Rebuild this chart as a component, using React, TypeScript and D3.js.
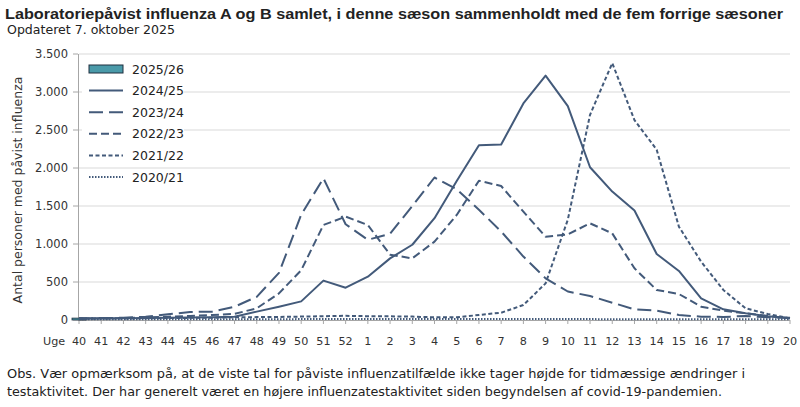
import * as d3 from "d3";

// uger i sæsonen
const weeks = [
  "40", "41", "42", "43", "44", "45", "46", "47", "48", "49", "50", "51", "52",
  "1", "2", "3", "4", "5", "6", "7", "8", "9", "10", "11", "12", "13", "14", "15",
  "16", "17", "18", "19", "20",
];

const yTicks = [0, 500, 1000, 1500, 2000, 2500, 3000, 3500];

// 2025/26 - kun uge 40 indtil videre
const s2025 = [25];

const s2024 = [
  18, 20, 22, 25, 30, 32, 35, 44, 110, 175, 245, 518, 425,
  570, 811, 990, 1340, 1830, 2300, 2310, 2850, 3215, 2815, 2010, 1690, 1440, 868, 645,
  285, 140, 90, 48, 22,
];

const s2023 = [
  22, 25, 30, 44, 75, 105, 110, 175, 305, 620, 1385, 1865, 1260,
  1055, 1135, 1500, 1875, 1720, 1450, 1165, 835, 548, 375, 316, 228, 140, 123, 66,
  44, 40, 53, 35, 30,
];

const s2022 = [
  20, 22, 25, 35, 44, 53, 66, 80, 154, 350, 655, 1250, 1360,
  1250, 860, 811, 1031, 1382, 1833, 1763, 1425, 1096, 1127, 1272, 1140, 680, 395, 342,
  175, 123, 88, 53, 22,
];

const s2021 = [
  20, 20, 20, 22, 25, 28, 30, 35, 38, 40, 45, 50, 55,
  50, 48, 45, 35, 35, 66, 96, 197, 482, 1320, 2700, 3380, 2630, 2240, 1228,
  768, 395, 154, 79, 22,
];

const s2020 = [
  10, 10, 10, 10, 10, 10, 10, 10, 10, 10, 12, 12, 12,
  12, 12, 12, 12, 12, 12, 12, 12, 12, 12, 12, 10, 10, 10, 10,
  10, 10, 10, 10, 10,
];

const seasons = ["2025/26", "2024/25", "2023/24", "2022/23", "2021/22", "2020/21"];

const lineColor = "#435a7a";
const barColor = "#4a9aa9";
const font = "'Century Gothic', 'DejaVu Sans', sans-serif";
const titleFont = "'Century Gothic', 'Liberation Sans', sans-serif";

const lineSeries = [
  { name: "2020/21", values: s2020, dash: "1.5,1.5" },
  { name: "2021/22", values: s2021, dash: "4,2.5" },
  { name: "2022/23", values: s2022, dash: "8,4" },
  { name: "2023/24", values: s2023, dash: "14,6" },
  { name: "2024/25", values: s2024, dash: "none" },
];

const fmt = d3.formatLocale({
  decimal: ",",
  thousands: ".",
  grouping: [3],
  currency: ["", " kr."],
}).format(",");

export default function App() {
  const width = 800;
  const height = 407;

  const x = d3.scalePoint<string>().domain(weeks).range([79, 790]);
  const y = d3.scaleLinear().domain([0, 3500]).range([320, 54]);

  const line = d3
    .line<number>()
    .x((_, i) => x(weeks[i]) as number)
    .y((d) => y(d));

  const barW = 14;

  return (
    <svg
      width={width}
      height={height}
      style={{ position: "absolute", left: 0, top: 0, background: "#fff" }}
      fontFamily={font}
    >
      {/* titel */}
      <text
        x={5}
        y={19}
        fontSize={15}
        fontWeight="bold"
        fontFamily={titleFont}
        textLength={778}
        lengthAdjust="spacingAndGlyphs"
        fill="#222"
      >
        Laboratoriepåvist influenza A og B samlet, i denne sæson sammenholdt med de fem forrige sæsoner
      </text>
      <text x={7} y={34} fontSize={12} textLength={168} lengthAdjust="spacingAndGlyphs" fill="#222">
        Opdateret 7. oktober 2025
      </text>

      {/* gitterlinjer */}
      {yTicks.slice(1).map((t) => (
        <line key={t} x1={79} x2={790} y1={y(t)} y2={y(t)} stroke="#d9d9d9" strokeWidth={1} />
      ))}

      {/* y-akse */}
      <line x1={78.5} x2={78.5} y1={y(3500)} y2={y(0)} stroke="#a6a6a6" />
      {yTicks.map((t) => (
        <g key={t}>
          <line x1={73} x2={78} y1={y(t)} y2={y(t)} stroke="#a6a6a6" />
          <text x={68} y={y(t) + 4} fontSize={11.5} textAnchor="end" fill="#333">
            {fmt(t)}
          </text>
        </g>
      ))}
      <text
        transform={`translate(22, ${(y(0) + y(3500)) / 2 + 3}) rotate(-90)`}
        fontSize={12.5}
        textAnchor="middle"
        fill="#333"
      >
        Antal personer med påvist influenza
      </text>

      {/* x-akse */}
      <line x1={78} x2={790} y1={y(0) + 0.5} y2={y(0) + 0.5} stroke="#a6a6a6" />
      {weeks.map((w) => (
        <g key={w}>
          <line x1={x(w)} x2={x(w)} y1={y(0)} y2={y(0) + 4} stroke="#a6a6a6" />
          <text x={x(w)} y={345} fontSize={11.2} textAnchor="middle" fill="#333">
            {w}
          </text>
        </g>
      ))}
      <text x={43} y={345} fontSize={11.2} fill="#333">
        Uge
      </text>

      {/* søjle 2025/26 */}
      {s2025.map((v, i) => (
        <rect
          key={i}
          x={(x(weeks[i]) as number) - barW / 2}
          y={y(v)}
          width={barW}
          height={y(0) - y(v)}
          fill={barColor}
          stroke="#1f2f3f"
          strokeWidth={0.8}
        />
      ))}

      {/* linjer */}
      {lineSeries.map((s) => (
        <path
          key={s.name}
          d={line(s.values) ?? ""}
          fill="none"
          stroke={lineColor}
          strokeWidth={2}
          strokeDasharray={s.dash}
          strokeLinejoin="round"
        />
      ))}

      {/* forklaring */}
      <rect x={82} y={57} width={102} height={106} fill="#fff" />
      {seasons.map((name, i) => {
        const ly = 69 + i * 21.6;
        const s = lineSeries.find((d) => d.name === name);
        return (
          <g key={name}>
            {s ? (
              <line x1={89} x2={123} y1={ly} y2={ly} stroke={lineColor} strokeWidth={2} strokeDasharray={s.dash} />
            ) : (
              <rect x={89} y={ly - 4} width={34} height={8} fill={barColor} stroke="#1f2f3f" strokeWidth={1} />
            )}
            <text x={132} y={ly + 4.5} fontSize={12.5} fill="#222">
              {name}
            </text>
          </g>
        );
      })}

      {/* note */}
      <text x={7} y={378} fontSize={12} textLength={738} lengthAdjust="spacingAndGlyphs" fill="#222">
        Obs. Vær opmærksom på, at de  viste tal for påviste influenzatilfælde ikke tager højde  for tidmæssige ændringer i
      </text>
      <text x={7} y={396} fontSize={12} textLength={715} lengthAdjust="spacingAndGlyphs" fill="#222">
        testaktivitet. Der har generelt  været en højere  influenzatestaktivitet siden begyndelsen  af covid-19-pandemien.
      </text>
    </svg>
  );
}
